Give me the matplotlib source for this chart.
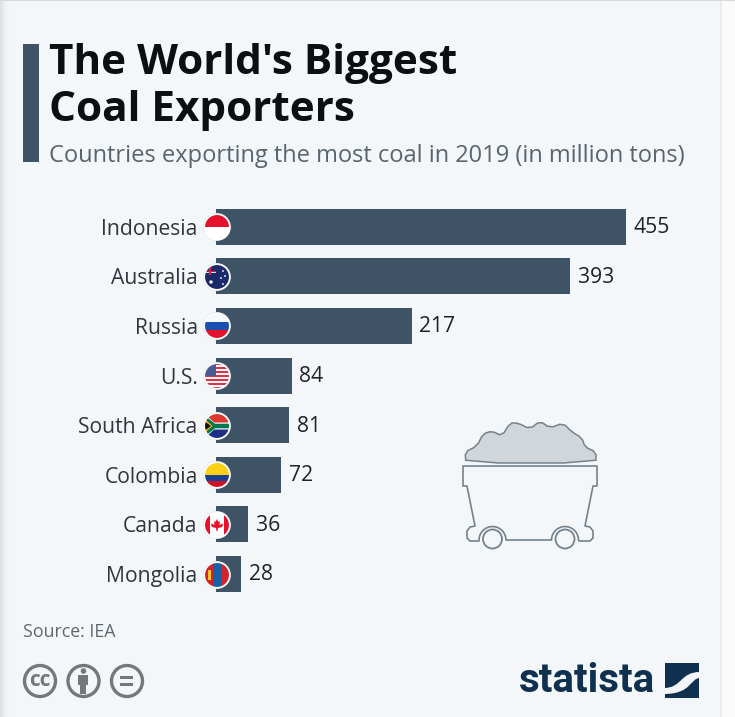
import numpy as np
import matplotlib
matplotlib.use('Agg')
import matplotlib.pyplot as plt
from matplotlib.patches import Circle, Rectangle, Polygon
from matplotlib.path import Path
from matplotlib.patches import PathPatch

countries = ['Indonesia', 'Australia', 'Russia', 'U.S.', 'South Africa', 'Colombia', 'Canada', 'Mongolia']
exports = [455, 393, 217, 84, 81, 72, 36, 28]

BAR = '#3f5366'
BG = '#f3f7fa'
plt.rcParams['font.family'] = ['Open Sans', 'DejaVu Sans']

W, H = 735, 717
fig = plt.figure(figsize=(W / 100, H / 100), dpi=100, facecolor=BG)

# overlay in pixels for the furniture
bg = fig.add_axes([0, 0, 1, 1], zorder=0)
bg.set_xlim(0, W)
bg.set_ylim(H, 0)
bg.axis('off')
bg.add_patch(Rectangle((722, 0), 13, H, color='#fafafa', lw=0))
bg.add_patch(Rectangle((720, 0), 2, H, color='#e9edf0', lw=0))
bg.add_patch(Rectangle((0, 0), W, 1, color='#d3d8dc', lw=0))
for i in range(10):
    bg.add_patch(Rectangle((i, 0), 1, H, color='#d5dade', alpha=0.75 * (1 - i / 10) ** 2, lw=0))
bg.add_patch(Rectangle((23, 44), 16.5, 118, color=BAR, lw=0))

bg.text(49, 64, "The World's Biggest", fontsize=30.4, fontweight='bold', color='#0a0f0f', va='center')
bg.text(49, 110.5, 'Coal Exporters', fontsize=30.4, fontweight='bold', color='#0a0f0f', va='center')
bg.text(49, 156.5, 'Countries exporting the most coal in 2019 (in million tons)', fontsize=16.97,
        color='#5a646c', va='center')
bg.text(23, 632, 'Source: IEA', fontsize=12.8, color='#60686e', va='center')

# bars
x0, px_per_unit = 216, 410 / 455
ax = fig.add_axes([x0 / W, 1 - 599 / H, 500 / W, 397 / H], zorder=1)
ax.patch.set_alpha(0)
ax.set_xlim(0, 500 / px_per_unit)
pos = np.arange(len(countries))
ax.set_ylim(len(countries) - 0.5 + 0.005, -0.5)
ax.barh(pos, exports, height=0.725, color=BAR)
for p, v in zip(pos, exports):
    ax.annotate(str(v), (v, p), xytext=(5.5, -0.6), textcoords='offset points', va='center',
                fontsize=15.2, color='#1e2326')
ax.set_yticks(pos)
ax.set_yticklabels(countries, fontsize=15.2, color='#30373c')
ax.tick_params(axis='y', length=0, pad=13.2)
ax.set_xticks([])
for s in ax.spines.values():
    s.set_visible(False)

# pixel layer on top
top = fig.add_axes([0, 0, 1, 1], zorder=2)
top.set_xlim(0, W)
top.set_ylim(H, 0)
top.axis('off')
top.patch.set_alpha(0)

fx, fr = 217, 12.8


def flag(cy, parts):
    top.add_patch(Circle((fx, cy), fr + 1, fc='#c9ced2', ec='none'))
    clip = Circle((fx, cy), fr, transform=top.transData)
    for p in parts:
        top.add_patch(p)
        p.set_clip_path(clip)
    top.add_patch(Circle((fx, cy), fr, fc='none', ec='white', lw=1.2))


def bands(cy, colors, weights=None):
    weights = weights or [1] * len(colors)
    tot = sum(weights)
    y = cy - fr
    out = []
    for c, w in zip(colors, weights):
        h = 2 * fr * w / tot
        out.append(Rectangle((fx - fr, y), 2 * fr, h, color=c, lw=0))
        y += h
    return out


def smooth(pts, n=1):
    pts = np.array(pts, float)
    for _ in range(n):
        a, b = pts, np.roll(pts, -1, axis=0)
        q = np.empty((len(pts) * 2, 2))
        q[0::2] = 0.75 * a + 0.25 * b
        q[1::2] = 0.25 * a + 0.75 * b
        pts = q
    return pts


cys = [227, 277, 326, 376, 426, 475, 525, 575]

flag(cys[0], bands(cys[0], ['#e8112d', '#ffffff']))

c = cys[1]
flag(c, [Rectangle((fx - fr, c - fr), 2 * fr, 2 * fr, color='#1b2a6b', lw=0),
         Rectangle((fx - fr, c - 6.5), 12, 2.2, color='#d8d8e8', lw=0),
         Rectangle((fx - 8, c - fr), 2.2, 11, color='#d8d8e8', lw=0),
         Rectangle((fx - fr, c - 6), 12, 1.1, color='#d8213a', lw=0),
         Rectangle((fx - 7.5, c - fr), 1.1, 11, color='#d8213a', lw=0),
         Circle((fx - 6, c + 5), 1.7, color='white', lw=0),
         Circle((fx + 6, c - 6), 0.9, color='white', lw=0),
         Circle((fx + 8, c - 1), 0.9, color='white', lw=0),
         Circle((fx + 4, c + 1), 0.9, color='white', lw=0),
         Circle((fx + 6, c + 7), 0.9, color='white', lw=0)])

flag(cys[2], bands(cys[2], ['#f7f8fa', '#1b4fb0', '#e3132c']))

c = cys[3]
flag(c, bands(c, ['#d8354a', '#f6f3f3'] * 6 + ['#d8354a'])
     + [Rectangle((fx - fr, c - fr), 12, 12.5, color='#4a5a94', lw=0)])

c = cys[4]
flag(c, [Rectangle((fx - fr, c - fr), 2 * fr, fr, color='#de3831', lw=0),
         Rectangle((fx - fr, c), 2 * fr, fr, color='#1d2f87', lw=0),
         Polygon([(fx - fr, c - fr), (fx - 3, c - 3.5), (fx + fr, c - 3.5), (fx + fr, c + 3.5),
                  (fx - 3, c + 3.5), (fx - fr, c + fr)], color='white', lw=0),
         Polygon([(fx - fr, c - fr + 2), (fx - 2, c - 2.3), (fx + fr, c - 2.3), (fx + fr, c + 2.3),
                  (fx - 2, c + 2.3), (fx - fr, c + fr - 2)], color='#007a4d', lw=0),
         Polygon([(fx - fr, c - 7.5), (fx - 4.5, c), (fx - fr, c + 7.5)], color='#ffb612', lw=0),
         Polygon([(fx - fr, c - 5), (fx - 6, c), (fx - fr, c + 5)], color='#111111', lw=0)])

flag(cys[5], bands(cys[5], ['#fcd116', '#1c3f94', '#ce1126'], [2, 1, 1]))

c = cys[6]
leaf = [(0, -6), (1.5, -3), (3, -4), (2.5, 0), (5.5, -1.5), (6, 0), (5, 2), (1, 3), (0.5, 6), (-0.5, 6),
        (-1, 3), (-5, 2), (-6, 0), (-5.5, -1.5), (-2.5, 0), (-3, -4), (-1.5, -3)]
flag(c, bands(c, ['#ffffff'])
     + [Rectangle((fx - fr, c - fr), 6, 2 * fr, color='#e8112d', lw=0),
        Rectangle((fx + fr - 6, c - fr), 6, 2 * fr, color='#e8112d', lw=0),
        Polygon([(fx + a, c + b) for a, b in leaf], color='#e8112d', lw=0)])

c = cys[7]
flag(c, [Rectangle((fx - fr, c - fr), 2 * fr, 2 * fr, color='#d2232a', lw=0),
         Rectangle((fx - 4, c - fr), 8.4, 2 * fr, color='#1660a8', lw=0),
         Rectangle((fx - 9, c - 5), 3, 10, color='#f7c72c', lw=0)])

# coal cart
EDGE = '#75828c'
coal = [(466, 463), (465, 452), (477, 446), (483, 434), (492, 431), (502, 436), (510, 423), (518, 423), (530, 429),
        (540, 421), (550, 428), (563, 423), (572, 432), (582, 438), (585, 447), (596, 452), (596, 463)]
top.add_patch(Polygon(smooth(coal), closed=True, fc='#d0d6da', ec=EDGE, lw=1.1))


def arch(cx, cy, r, n=16):
    # upper half of a wheel arch, left to right
    t = np.linspace(np.pi, 2 * np.pi, n)
    return [(cx + r * np.cos(a), cy + r * np.sin(a)) for a in t]


cart = [(463, 466), (597, 466), (597, 486), (593, 486), (585, 526), (590, 527), (593, 531), (593, 538), (590, 541),
        (579, 541)] + arch(565, 540, 13.5)[::-1] + [(551, 540), (506, 540)] + arch(492.5, 540, 13.5)[::-1] \
    + [(479, 541), (470, 541), (467, 538), (467, 531), (470, 527), (475, 526), (467, 486), (463, 486)]
top.add_patch(Polygon(cart, closed=True, fc='none', ec=EDGE, lw=1.2, joinstyle='round'))
top.add_patch(Circle((492.5, 539), 9.5, fc=BG, ec=EDGE, lw=1.3))
top.add_patch(Circle((565, 539), 9.5, fc=BG, ec=EDGE, lw=1.3))

# licence icons
GREY = '#72787c'
for x in [40, 83.5, 127]:
    top.add_patch(Circle((x, 681), 15.5, fc='none', ec=GREY, lw=2.4))
top.text(40, 680, 'cc', fontsize=15, fontweight='bold', color=GREY, ha='center', va='center')
top.add_patch(Circle((83.5, 671), 2.8, color=GREY, lw=0))
top.add_patch(Rectangle((78.5, 675), 10, 10, color=GREY, lw=0))
top.add_patch(Rectangle((80.5, 684), 6, 10, color=GREY, lw=0))
top.add_patch(Rectangle((120.5, 675.5), 13, 3.2, color=GREY, lw=0))
top.add_patch(Rectangle((120.5, 683), 13, 3.2, color=GREY, lw=0))

# statista logo
NAVY = '#10304f'
top.text(519, 681, 'statista', fontsize=29, fontweight='bold', color=NAVY, va='center', family='Roboto')
top.add_patch(Rectangle((665, 663), 34, 35, color=NAVY, lw=0))
swoosh = Path([(664, 688), (682, 688), (680, 672), (700, 672), (700, 678), (690, 678), (692, 694), (664, 694),
               (664, 688)],
              [Path.MOVETO, Path.CURVE4, Path.CURVE4, Path.CURVE4, Path.LINETO, Path.CURVE4, Path.CURVE4, Path.CURVE4,
               Path.CLOSEPOLY])
top.add_patch(PathPatch(swoosh, fc=BG, ec='none'))

fig.savefig('out.png', dpi=100, facecolor=BG)
